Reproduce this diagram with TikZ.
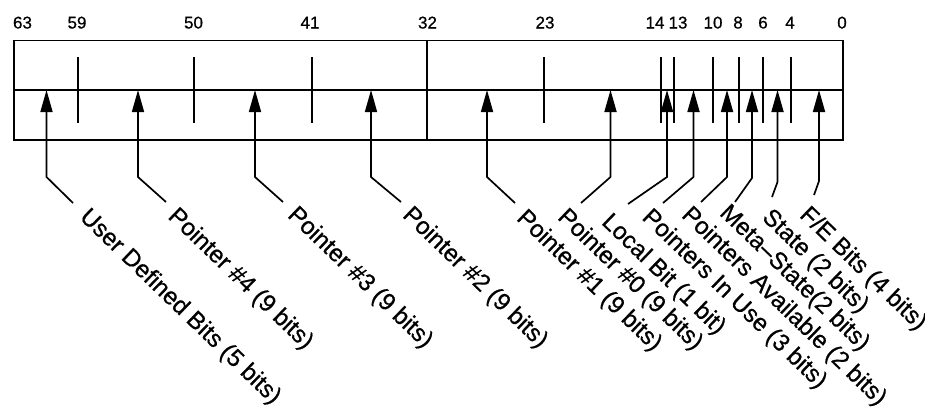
\documentclass[tikz,border=0pt]{standalone}
\usepackage{fontspec}
\setmainfont[FakeBold=0.6]{Liberation Sans}
\usetikzlibrary{arrows.meta}
\begin{document}
\begin{tikzpicture}[x=1pt,y=-1pt,
  reg/.style={line width=1.9pt},
  bittick/.style={line width=1.7pt},
  bitnum/.style={anchor=base, inner sep=0pt, font=\fontsize{17}{20}\selectfont},
  fieldlbl/.style={anchor=base west, inner sep=0pt, rotate=-44, font=\fontsize{24.2}{28}\selectfont},
  ptr/.style={line width=1.7pt, line join=miter, {Triangle[length=22pt,width=12pt]}-}
]
\useasboundingbox (0,0) rectangle (925,418);

% register box
\draw[reg] (14,40.5) rectangle (843,140);
\draw[reg] (14,90) -- (843,90);
\draw[reg] (427,40.5) -- (427,140);

% ticks
\foreach \tx in {78,194,312,544,661,674,713,739,763,791}
  \draw[bittick] (\tx,57) -- (\tx,123);

% bit numbers
\node[bitnum] (n63) at (22.5,28.5) {63};
\node[bitnum] (n59) at (77,28.5) {59};
\node[bitnum] (n50) at (193.5,28.5) {50};
\node[bitnum] (n41) at (310,28.5) {41};
\node[bitnum] (n32) at (427.5,28.5) {32};
\node[bitnum] (n23) at (545,28.5) {23};
\node[bitnum] (n14) at (655,28.5) {14};
\node[bitnum] (n13) at (678,28.5) {13};
\node[bitnum] (n10) at (713,28.5) {10};
\node[bitnum] (n8) at (738,28.5) {8};
\node[bitnum] (n6) at (763,28.5) {6};
\node[bitnum] (n4) at (790,28.5) {4};
\node[bitnum] (n0) at (842,28.5) {0};

% field labels
\node[fieldlbl] (lUser) at (78.6,218.2) {User Defined Bits (5 bits)};
\node[fieldlbl] (lP4) at (167,217.5) {Pointer \#4 (9 bits)};
\node[fieldlbl] (lP3) at (286.6,216.2) {Pointer \#3 (9 bits)};
\node[fieldlbl] (lP2) at (401.6,216.2) {Pointer \#2 (9 bits)};
\node[fieldlbl] (lP1) at (515.6,219.2) {Pointer \#1 (9 bits)};
\node[fieldlbl] (lP0) at (556.6,218.2) {Pointer \#0 (9 bits)};
\node[fieldlbl] (lLocal) at (600.6,223.2) {Local Bit (1 bit)};
\node[fieldlbl] (lInUse) at (641,218.5) {Pointers In Use (3 bits)};
\node[fieldlbl] (lAvail) at (680.6,216.2) {Pointers Available (2 bits)};
\node[fieldlbl] (lMeta) at (718.6,214.2) {Meta–State(2 bits)};
\node[fieldlbl] (lState) at (761,218.5) {State (2 bits)};
\node[fieldlbl] (lFE) at (798.6,216.2) {F/E Bits (4 bits)};

% connector points: tip, bend, end
\coordinate (tUser) at (46.5,90);  \coordinate (bUser) at (46.5,177);  \coordinate (eUser) at (73,203);
\coordinate (tP4) at (138,90);     \coordinate (bP4) at (138,177);     \coordinate (eP4) at (166,202);
\coordinate (tP3) at (255,90);     \coordinate (bP3) at (255,177);     \coordinate (eP3) at (283,202);
\coordinate (tP2) at (371,90);     \coordinate (bP2) at (371,177);     \coordinate (eP2) at (401,202);
\coordinate (tP1) at (487,90);     \coordinate (bP1) at (487,177);     \coordinate (eP1) at (515,203);
\coordinate (tP0) at (610.5,90);   \coordinate (bP0) at (610.5,177);   \coordinate (eP0) at (581,203);
\coordinate (tLocal) at (667,90);  \coordinate (bLocal) at (667,177);  \coordinate (eLocal) at (628,204);
\coordinate (tInUse) at (693.5,90);\coordinate (bInUse) at (693.5,177);\coordinate (eInUse) at (663,203);
\coordinate (tAvail) at (727,90);  \coordinate (bAvail) at (727,177);  \coordinate (eAvail) at (701,202);
\coordinate (tMeta) at (752,90);   \coordinate (bMeta) at (752,178);   \coordinate (eMeta) at (735,202);
\coordinate (tState) at (777.5,90);\coordinate (bState) at (777.5,182);\coordinate (eState) at (772,197);
\coordinate (tFE) at (819,90);     \coordinate (bFE) at (819,181);     \coordinate (eFE) at (814,195);

\foreach \f in {User,P4,P3,P2,P1,P0,Local,InUse,Avail,Meta,State,FE}
  \draw[ptr] (t\f) -- (b\f) -- (e\f);
\end{tikzpicture}
\end{document}
